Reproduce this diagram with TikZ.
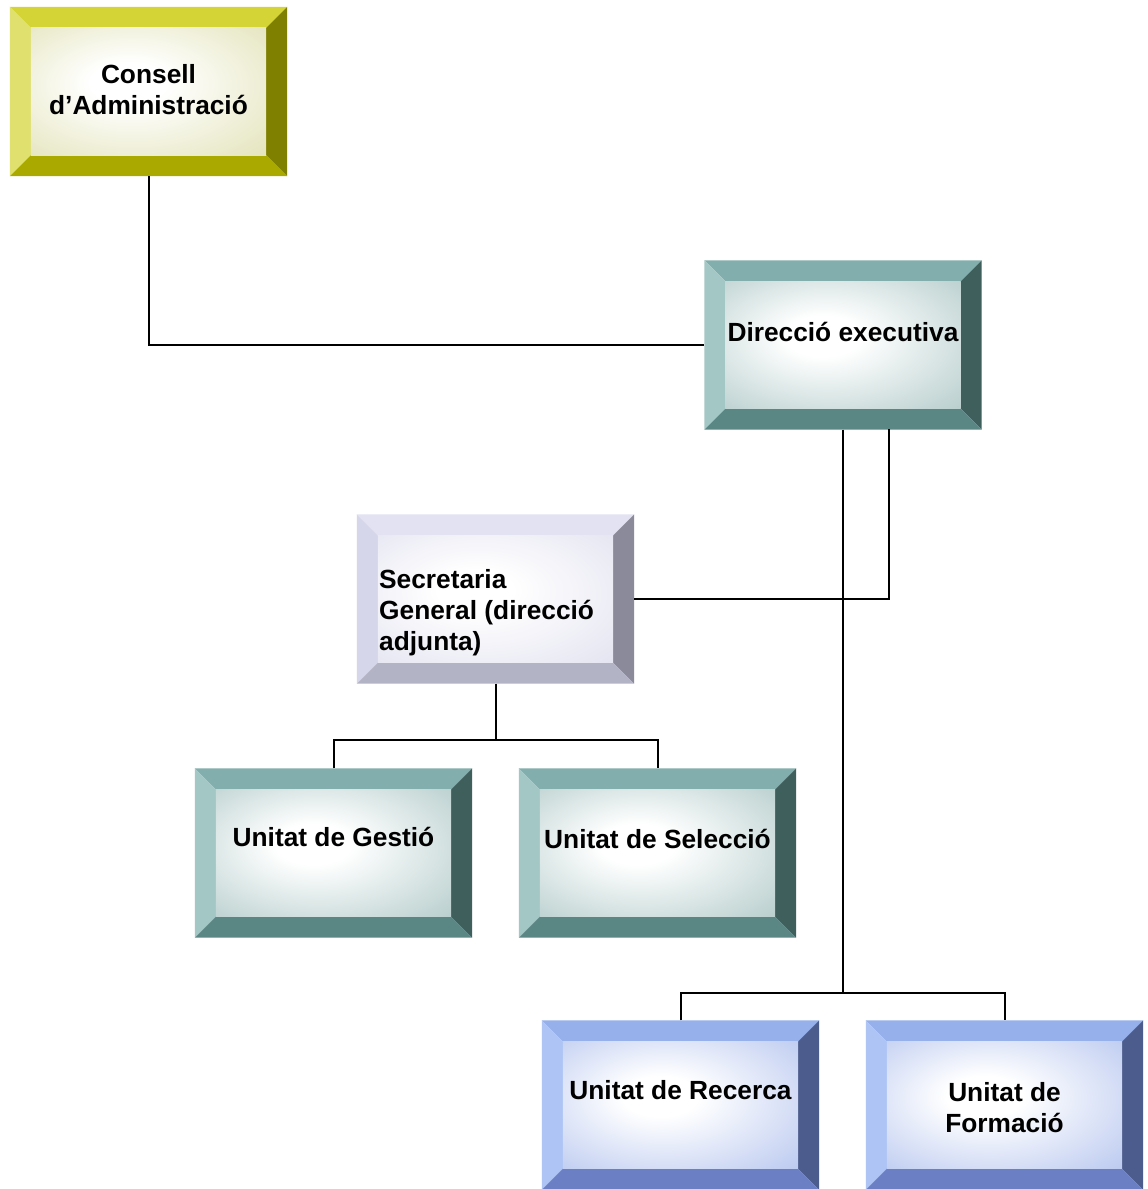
\documentclass[tikz,border=0pt]{standalone}
\usepackage{fontspec}
\setmainfont{Liberation Sans}
\usetikzlibrary{calc}
% yellow palette
\definecolor{yT}{HTML}{D4D436}
\definecolor{yL}{HTML}{E0E06E}
\definecolor{yR}{HTML}{7F7F00}
\definecolor{yB}{HTML}{A9A900}
\definecolor{yF}{HTML}{D2D290}
% teal palette
\definecolor{tT}{HTML}{82AFAD}
\definecolor{tL}{HTML}{A3C7C5}
\definecolor{tR}{HTML}{3F5F5D}
\definecolor{tB}{HTML}{5A8684}
\definecolor{tF}{HTML}{88AEAC}
% lavender palette
\definecolor{lT}{HTML}{E2E2F2}
\definecolor{lL}{HTML}{D6D6EA}
\definecolor{lR}{HTML}{8A8A9A}
\definecolor{lB}{HTML}{B3B3C6}
\definecolor{lF}{HTML}{D2D2E8}
% blue palette
\definecolor{bT}{HTML}{96B0EC}
\definecolor{bL}{HTML}{AEC4F4}
\definecolor{bR}{HTML}{4C5C8C}
\definecolor{bB}{HTML}{6B80C4}
\definecolor{bF}{HTML}{8EA6E6}
\pgfdeclareradialshading{facey}{\pgfpoint{-5bp}{4bp}}{color(0bp)=(white); color(8bp)=(white); color(58bp)=(yF)}
\pgfdeclareradialshading{facet}{\pgfpoint{-5bp}{4bp}}{color(0bp)=(white); color(8bp)=(white); color(58bp)=(tF)}
\pgfdeclareradialshading{facel}{\pgfpoint{-5bp}{4bp}}{color(0bp)=(white); color(8bp)=(white); color(58bp)=(lF)}
\pgfdeclareradialshading{faceb}{\pgfpoint{-5bp}{4bp}}{color(0bp)=(white); color(8bp)=(white); color(58bp)=(bF)}
\newcommand\bevelbox[3]{%
  \node[boxshape] (#1) at (#2) {};
  \fill[#3T] (#1.north west) -- (#1.north east) -- ($(#1.north east)+(-21,21)$) -- ($(#1.north west)+(21,21)$) -- cycle;
  \fill[#3L] (#1.north west) -- ($(#1.north west)+(21,21)$) -- ($(#1.south west)+(21,-21)$) -- (#1.south west) -- cycle;
  \fill[#3R] (#1.north east) -- (#1.south east) -- ($(#1.south east)+(-21,-21)$) -- ($(#1.north east)+(-21,21)$) -- cycle;
  \fill[#3B] (#1.south west) -- ($(#1.south west)+(21,-21)$) -- ($(#1.south east)+(-21,-21)$) -- (#1.south east) -- cycle;
  \shade[shading=face#3]
    ($(#1.north west)+(21,21)$) rectangle ($(#1.south east)+(-21,-21)$);
}
\begin{document}
\begin{tikzpicture}[x=1pt,y=-1pt,
  boxshape/.style={rectangle, minimum width=277pt, minimum height=169pt, inner sep=0pt},
  lbl/.style={font=\fontsize{26.3}{31}\selectfont\bfseries, inner sep=0pt},
  conn/.style={line width=2pt, black}]
\useasboundingbox (0,0) rectangle (1148,1189);
\fill[white] (0,0) rectangle (1148,1189);

\bevelbox{cons}{148.5,91.5}{y}
\bevelbox{dir}{843,345}{t}
\bevelbox{sec}{495.5,599}{l}
\bevelbox{ges}{333.5,853}{t}
\bevelbox{sel}{657.5,853}{t}
\bevelbox{rec}{680.5,1105}{b}
\bevelbox{for}{1004.5,1105}{b}

\node[lbl, align=center] (tcons) at (148.5,90) {Consell\\d’Administració};
\node[lbl] (tdir) at (843,332) {Direcció executiva};
\node[lbl, align=left, anchor=west] (tsec) at (379,613) {Secretaria\\General (direcció\\adjunta)};
\node[lbl] (tges) at (333.5,837) {Unitat de Gestió};
\node[lbl] (tsel) at (657.5,839) {Unitat de Selecció};
\node[lbl] (trec) at (680.5,1090) {Unitat de Recerca};
\node[lbl, align=center] (tfor) at (1004.5,1108) {Unitat de\\Formació};

\coordinate (j1) at (843,993);
\coordinate (j2) at (495.5,740);
\coordinate (d2) at (889,429);

\draw[conn] (cons.south) |- (dir.west);
\draw[conn] (d2) |- (sec.east);
\draw[conn] (dir.south) -- (j1);
\draw[conn] (rec.north) |- (j1) -| (for.north);
\draw[conn] (sec.south) -- (j2);
\draw[conn] (ges.north) |- (j2) -| (sel.north);
\end{tikzpicture}
\end{document}
